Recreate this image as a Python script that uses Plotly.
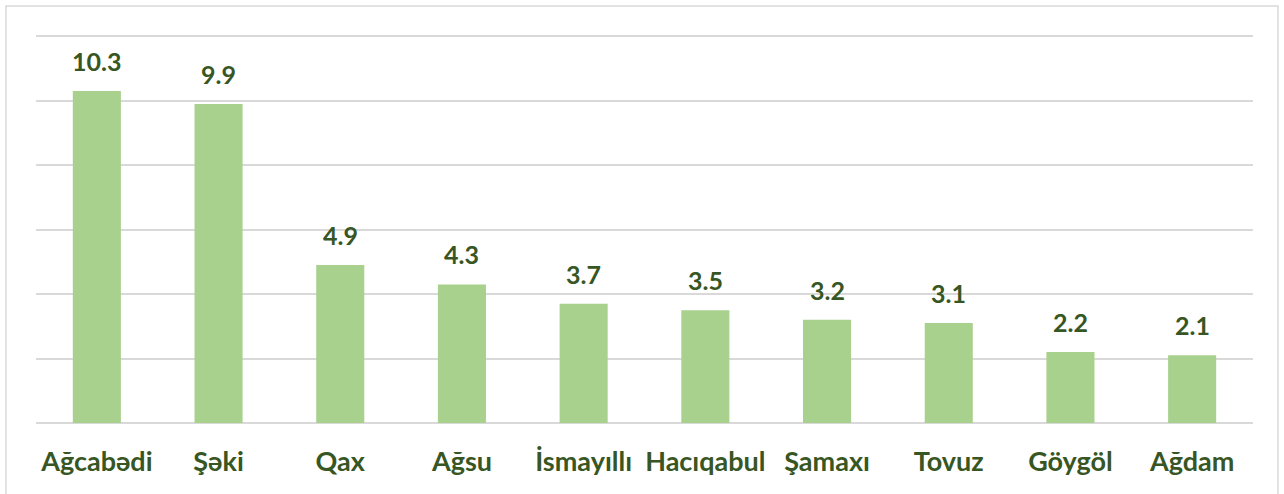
import plotly.graph_objects as go

categories = ["Ağcabədi", "Şəki", "Qax", "Ağsu", "İsmayıllı", "Hacıqabul", "Şamaxı", "Tovuz", "Göygöl", "Ağdam"]
values = [10.3, 9.9, 4.9, 4.3, 3.7, 3.5, 3.2, 3.1, 2.2, 2.1]
value_labels = ["10.3", "9.9", "4.9", "4.3", "3.7", "3.5", "3.2", "3.1", "2.2", "2.1"]
grid_values = [0, 2, 4, 6, 8, 10, 12]

BAR = "#A9D18E"
TXT = "#375623"
GRID = "#D9D9D9"
FONT = "Lato"

fig = go.Figure()
fig.add_trace(go.Bar(
    x=categories, y=values,
    marker=dict(color=BAR, line=dict(width=0)),
    hoverinfo="x+y",
))

for c, v, t in zip(categories, values, value_labels):
    fig.add_annotation(x=c, y=v, text="<b>%s</b>" % t, showarrow=False,
                       yanchor="bottom", yshift=13,
                       font=dict(family=FONT, size=25, color=TXT))

W, H = 1284, 494
L, R, T, B = 36, 31, 33, 71
pw, ph = W - L - R, H - T - B
fig.add_shape(type="rect", xref="paper", yref="paper",
              x0=(6 - L) / pw, x1=(1278 - L) / pw,
              y0=(H - B - 496) / ph, y1=(H - B - 6) / ph,
              line=dict(color=GRID, width=1.5), layer="below")

fig.update_layout(
    width=W, height=H,
    margin=dict(l=L, r=R, t=T, b=B),
    paper_bgcolor="white", plot_bgcolor="white",
    bargap=0.605,
    showlegend=False,
    font=dict(family=FONT),
    xaxis=dict(
        showgrid=False, showline=False, zeroline=False,
        ticks="outside", ticklen=15, tickcolor="rgba(0,0,0,0)",
        tickfont=dict(family=FONT, size=27, color=TXT, weight="bold"),
    ),
    yaxis=dict(
        range=[0, 12.1], tickvals=grid_values, showticklabels=False,
        showgrid=True, gridcolor=GRID, gridwidth=1.5,
        zeroline=True, zerolinecolor=GRID, zerolinewidth=1.5,
        showline=False,
    ),
)

fig.write_html("out.html", config={"displayModeBar": False},
               post_script="document.body.style.margin='0';document.body.style.overflow='hidden';")
